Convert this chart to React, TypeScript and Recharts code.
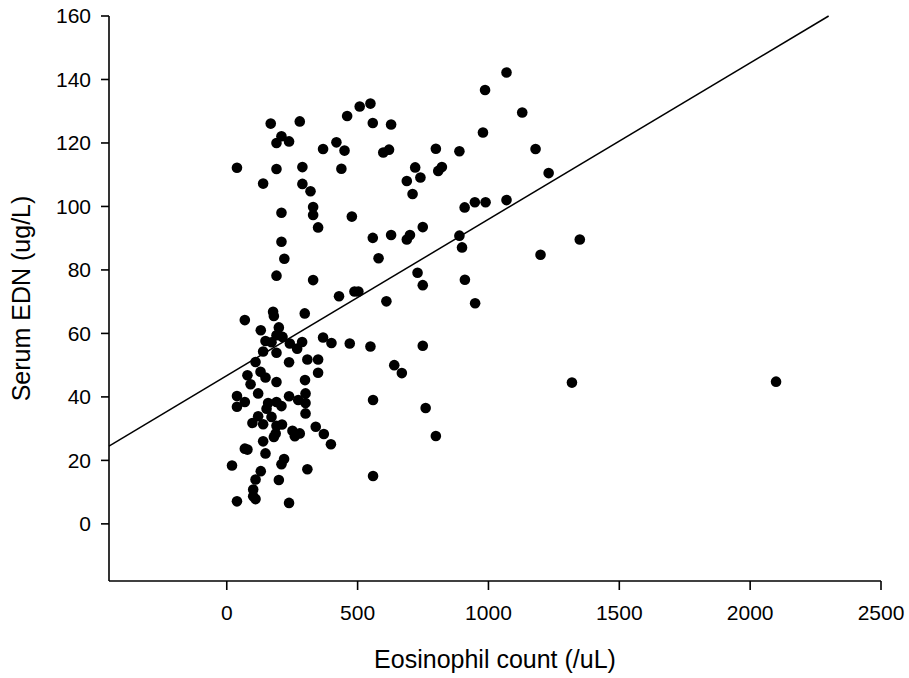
import { ScatterChart, Scatter, XAxis, YAxis, ReferenceLine } from 'recharts'

// Eosinophil count (/uL)
const eosinophilCounts = [
  168, 279, 209, 190, 238, 368, 419, 39, 190, 289, 139, 289, 320, 330, 330, 349, 209, 209, 220, 190, 330,
  450, 438, 460, 508, 549, 558, 628, 598, 620, 799, 889, 987, 1069, 1129, 979, 1180, 1230, 720, 740, 688,
  710, 808, 822, 909, 948, 989, 1069, 478, 558, 628, 688, 700, 749, 889, 899, 580, 1349, 1199, 729, 749,
  910, 429, 488, 503, 610, 949,
  400, 470, 549, 749, 640, 669, 559, 760, 799, 398, 559, 1319, 2099,
  69, 177, 180, 298, 130, 199, 190, 213, 148, 171, 241, 288, 269, 139, 190, 368, 110, 238, 308, 349,
  79, 129, 148, 91, 190, 299, 349, 120, 39, 69, 39, 238, 273, 301, 301, 158, 190, 209, 152, 301,
  120, 171, 98, 139, 190, 211, 340, 371, 251, 279, 260, 187, 180, 139, 69, 79, 148, 209, 219, 20,
  308, 130, 110, 199, 101, 101, 110, 39, 238,
]

// Serum EDN (ug/L), same order
const serumEdn = [
  126.1, 126.8, 122.1, 120.0, 120.5, 118.1, 120.2, 112.2, 111.8, 112.4, 107.2, 107.1, 104.8, 99.8, 97.3,
  93.4, 98.0, 88.9, 83.5, 78.2, 76.8,
  117.6, 111.9, 128.5, 131.5, 132.4, 126.3, 125.8, 117.0, 117.9, 118.2, 117.4, 136.7, 142.2, 129.6, 123.3,
  118.1, 110.5, 112.3, 109.1, 108.0, 103.9, 111.2, 112.4, 99.7, 101.3, 101.3, 102.0, 96.8, 90.1, 91.0,
  89.6, 91.0, 93.5, 90.8, 87.1, 83.7, 89.6, 84.8, 79.1, 75.2, 76.9, 71.7, 73.2, 73.2, 70.1, 69.5,
  57.0, 56.8, 55.9, 56.1, 50.0, 47.5, 39.0, 36.5, 27.7, 25.1, 15.1, 44.5, 44.8,
  64.2, 66.8, 65.5, 66.3, 61.0, 61.9, 59.4, 58.9, 57.6, 57.2, 56.8, 57.3, 55.2, 54.3, 53.9, 58.7, 51.0,
  50.9, 51.8, 51.8, 46.8, 47.9, 46.1, 44.0, 44.7, 45.3, 47.6, 41.1, 40.3, 38.4, 36.9, 40.2, 39.0, 41.1,
  38.1, 38.1, 38.4, 37.1, 36.3, 34.8, 33.9, 33.7, 31.8, 31.4, 30.9, 31.3, 30.6, 28.3, 29.3, 28.5, 27.6,
  28.5, 27.4, 26.0, 23.7, 23.4, 22.2, 18.8, 20.4, 18.4, 17.2, 16.6, 14.0, 13.8, 10.8, 8.7, 7.8, 7.1, 6.6,
]

// regression line end points
const fitX = [-450, 2300]
const fitY = [24.5, 160]

const xTicks = [0, 500, 1000, 1500, 2000, 2500]
const yTicks = [0, 20, 40, 60, 80, 100, 120, 140, 160]

const points = eosinophilCounts.map((x, i) => ({ x, y: serumEdn[i] }))

const font = '"Liberation Sans", Arial, Helvetica, sans-serif'
const tickStyle = { fontSize: 21, fill: '#000', fontFamily: font }
const labelStyle = { fontSize: 25, fill: '#000', fontFamily: font }
const axisLine = { stroke: '#000', strokeWidth: 1.6 }

const Dot = (props: any) => <circle cx={props.cx} cy={props.cy} r={5.3} fill="#000" />

export default function App() {
  return (
    <div style={{ position: 'absolute', left: 0, top: 0, background: '#fff' }}>
      <ScatterChart width={909} height={678} margin={{ top: 16, right: 28, bottom: 0, left: 0 }}>
        <XAxis
          type="number"
          dataKey="x"
          domain={[-450, 2500]}
          ticks={xTicks}
          allowDataOverflow
          height={97}
          tickSize={9}
          tickMargin={15}
          axisLine={axisLine}
          tickLine={axisLine}
          tick={tickStyle}
          label={{ value: 'Eosinophil count (/uL)', position: 'insideBottom', offset: 10, style: { ...labelStyle, textAnchor: 'middle' } }}
        />
        <YAxis
          type="number"
          dataKey="y"
          domain={[-18, 160]}
          ticks={yTicks}
          allowDataOverflow
          width={109}
          tickSize={8}
          tickMargin={10}
          axisLine={axisLine}
          tickLine={axisLine}
          tick={tickStyle}
          label={{ value: 'Serum EDN (ug/L)', angle: -90, position: 'insideLeft', offset: 21, style: { ...labelStyle, textAnchor: 'middle' } }}
        />
        <ReferenceLine
          segment={[{ x: fitX[0], y: fitY[0] }, { x: fitX[1], y: fitY[1] }]}
          stroke="#000"
          strokeWidth={1.5}
          ifOverflow="visible"
        />
        <Scatter data={points} shape={Dot} isAnimationActive={false} />
      </ScatterChart>
    </div>
  )
}
